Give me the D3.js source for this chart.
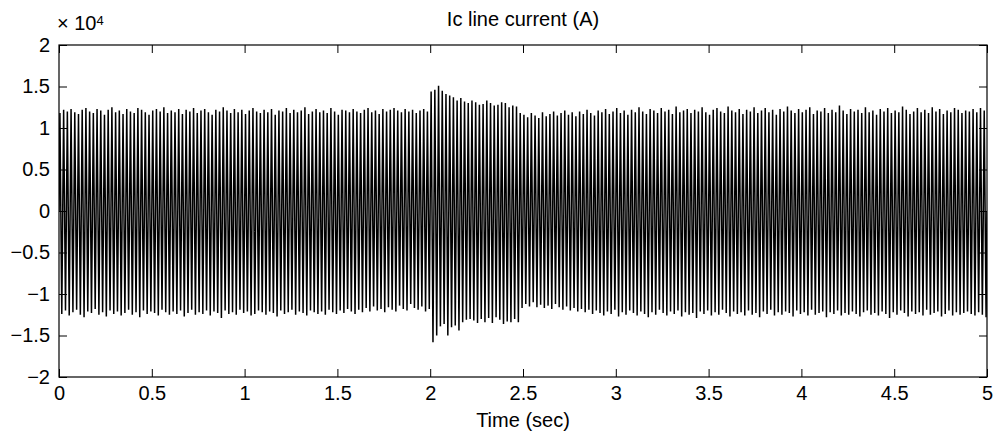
<!DOCTYPE html>
<html>
<head>
<meta charset="utf-8">
<script src="https://cdn.jsdelivr.net/npm/d3@7"></script>
<style>
  body { margin: 0; background: #fff; }
  svg { display: block; font-family: "Liberation Sans", Helvetica, Arial, sans-serif; }
</style>
</head>
<body>
<div id="chart"></div>
<script>
// Ic line current, 50 Hz, peaks of each cycle (units of 10^4 A)
const freq = 50;
const tEnd = 5;

const posPeaks = [
  1.18, 1.22, 1.20, 1.23, 1.19, 1.17, 1.22, 1.24, 1.20, 1.18,
  1.23, 1.21, 1.16, 1.22, 1.25, 1.19, 1.21, 1.17, 1.23, 1.20,
  1.18, 1.24, 1.22, 1.19, 1.16, 1.21, 1.23, 1.20, 1.25, 1.18,
  1.21, 1.19, 1.23, 1.17, 1.22, 1.20, 1.24, 1.18, 1.21, 1.23,
  1.19, 1.16, 1.22, 1.20, 1.25, 1.21, 1.18, 1.23, 1.19, 1.22,
  1.17, 1.21, 1.24, 1.20, 1.18, 1.22, 1.19, 1.23, 1.16, 1.21,
  1.20, 1.24, 1.18, 1.22, 1.19, 1.21, 1.25, 1.17, 1.20, 1.23,
  1.19, 1.21, 1.18, 1.24, 1.20, 1.16, 1.22, 1.21, 1.19, 1.23,
  1.20, 1.18, 1.22, 1.24, 1.19, 1.21, 1.17, 1.23, 1.20, 1.22,
  1.24, 1.21, 1.19, 1.23, 1.20, 1.22, 1.18, 1.21, 1.23, 1.20,
  // disturbance 2.0 - 2.5 s
  1.44, 1.46, 1.51, 1.45, 1.41, 1.39, 1.37, 1.33, 1.36, 1.32,
  1.30, 1.33, 1.31, 1.28, 1.29, 1.33, 1.30, 1.27, 1.28, 1.31,
  1.30, 1.25, 1.27, 1.26, 1.18,
  // after 2.5 s
  1.16, 1.13, 1.18, 1.15, 1.12, 1.19, 1.14, 1.17, 1.20, 1.15,
  1.18, 1.21, 1.16, 1.19, 1.14, 1.20, 1.17, 1.22, 1.18, 1.15,
  1.21, 1.19, 1.23, 1.17, 1.20, 1.24, 1.18, 1.21, 1.16, 1.22,
  1.19, 1.25, 1.20, 1.17, 1.23, 1.21, 1.18, 1.24, 1.20, 1.22,
  1.17, 1.26, 1.19, 1.21, 1.23, 1.18, 1.22, 1.20, 1.25, 1.19,
  1.16, 1.22, 1.24, 1.20, 1.18, 1.26, 1.21, 1.19, 1.23, 1.17,
  1.22, 1.20, 1.25, 1.18, 1.21, 1.24, 1.19, 1.22, 1.16, 1.23,
  1.20, 1.26, 1.21, 1.18, 1.23, 1.19, 1.22, 1.25, 1.17, 1.21,
  1.20, 1.24, 1.18, 1.22, 1.19, 1.27, 1.21, 1.17, 1.23, 1.20,
  1.22, 1.18, 1.25, 1.19, 1.21, 1.16, 1.23, 1.20, 1.24, 1.18,
  1.21, 1.19, 1.26, 1.22, 1.17, 1.20, 1.24, 1.19, 1.22, 1.18,
  1.25, 1.20, 1.23, 1.17, 1.21, 1.19, 1.24, 1.22, 1.18, 1.21,
  1.20, 1.23, 1.19, 1.24, 1.21
];

const negPeaks = [
  -1.24, -1.20, -1.26, -1.22, -1.19, -1.25, -1.28, -1.21, -1.23, -1.18,
  -1.25, -1.22, -1.27, -1.20, -1.24, -1.21, -1.26, -1.23, -1.19, -1.25,
  -1.22, -1.28, -1.20, -1.24, -1.21, -1.23, -1.26, -1.19, -1.22, -1.25,
  -1.21, -1.24, -1.20, -1.27, -1.23, -1.19, -1.25, -1.22, -1.24, -1.20,
  -1.26, -1.21, -1.23, -1.29, -1.20, -1.24, -1.22, -1.25, -1.19, -1.23,
  -1.21, -1.26, -1.24, -1.20, -1.22, -1.25, -1.21, -1.23, -1.27, -1.20,
  -1.24, -1.22, -1.19, -1.25, -1.21, -1.23, -1.26, -1.20, -1.22, -1.24,
  -1.21, -1.25, -1.19, -1.22, -1.24, -1.20, -1.23, -1.18, -1.21, -1.24,
  -1.19, -1.22, -1.17, -1.21, -1.15, -1.20, -1.18, -1.22, -1.16, -1.19,
  -1.21, -1.14, -1.18, -1.20, -1.12, -1.17, -1.19, -1.15, -1.21, -1.18,
  // disturbance 2.0 - 2.5 s
  -1.58, -1.50, -1.39, -1.36, -1.50, -1.40, -1.38, -1.44, -1.34, -1.31,
  -1.30, -1.32, -1.35, -1.30, -1.34, -1.29, -1.35, -1.28, -1.31, -1.36,
  -1.33, -1.34, -1.30, -1.34, -1.17,
  // after 2.5 s
  -1.12, -1.15, -1.10, -1.16, -1.13, -1.17, -1.14, -1.18, -1.12, -1.16,
  -1.19, -1.15, -1.20, -1.17, -1.21, -1.18, -1.22, -1.19, -1.24, -1.20,
  -1.23, -1.26, -1.21, -1.24, -1.19, -1.27, -1.22, -1.25, -1.20, -1.23,
  -1.26, -1.21, -1.24, -1.28, -1.22, -1.25, -1.19, -1.23, -1.26, -1.21,
  -1.24, -1.20, -1.27, -1.22, -1.25, -1.23, -1.29, -1.21, -1.24, -1.20,
  -1.26, -1.22, -1.25, -1.19, -1.23, -1.27, -1.21, -1.24, -1.22, -1.26,
  -1.20, -1.25, -1.23, -1.28, -1.21, -1.24, -1.19, -1.26, -1.22, -1.25,
  -1.21, -1.23, -1.27, -1.20, -1.24, -1.22, -1.26, -1.19, -1.25, -1.23,
  -1.21, -1.28, -1.22, -1.24, -1.20, -1.26, -1.23, -1.25, -1.21, -1.24,
  -1.27, -1.22, -1.20, -1.25, -1.23, -1.26, -1.21, -1.24, -1.29, -1.22,
  -1.25, -1.20, -1.23, -1.27, -1.21, -1.24, -1.22, -1.26, -1.19, -1.25,
  -1.23, -1.21, -1.27, -1.24, -1.20, -1.26, -1.22, -1.25, -1.23, -1.21,
  -1.24, -1.26, -1.22, -1.25, -1.28
];

const xTicks = [0, 0.5, 1, 1.5, 2, 2.5, 3, 3.5, 4, 4.5, 5];
const yTicks = [-2, -1.5, -1, -0.5, 0, 0.5, 1, 1.5, 2];

// Configuration
const width = 994;
const height = 436;
const margin = { left: 59, right: 7, top: 45, bottom: 59 };
const tickLen = 8;
const fontSize = 20;

// Waveform points: positive peak at quarter cycle, negative at three quarters
const points = [{ t: 0, v: 0 }];
posPeaks.forEach((p, k) => {
    points.push({ t: (k + 0.25) / freq, v: p });
    points.push({ t: (k + 0.75) / freq, v: negPeaks[k] });
});
points.push({ t: tEnd, v: 0 });

const x = d3.scaleLinear().domain([0, tEnd]).range([margin.left, width - margin.right]);
const y = d3.scaleLinear().domain([-2, 2]).range([height - margin.bottom, margin.top]);

const svg = d3.select("#chart")
    .append("svg")
    .attr("width", width)
    .attr("height", height);

svg.append("clipPath")
    .attr("id", "plot-clip")
    .append("rect")
    .attr("x", margin.left)
    .attr("y", margin.top)
    .attr("width", x.range()[1] - margin.left)
    .attr("height", y.range()[0] - margin.top);

// Signal
svg.append("path")
    .datum(points)
    .attr("clip-path", "url(#plot-clip)")
    .attr("fill", "none")
    .attr("stroke", "#000")
    .attr("stroke-width", 1.5)
    .attr("d", d3.line().x(d => x(d.t)).y(d => y(d.v)));

const fmt = d => String(d).replace("-", "\u2212");

// Axes, ticks pointing inward (matlab box style)
const axBottom = svg.append("g")
    .attr("transform", `translate(0,${y.range()[0]})`)
    .call(d3.axisBottom(x).tickValues(xTicks).tickFormat(fmt).tickSize(-tickLen).tickPadding(9));
const axTop = svg.append("g")
    .attr("transform", `translate(0,${margin.top})`)
    .call(d3.axisTop(x).tickValues(xTicks).tickFormat("").tickSize(-tickLen));
const axLeft = svg.append("g")
    .attr("transform", `translate(${margin.left},0)`)
    .call(d3.axisLeft(y).tickValues(yTicks).tickFormat(fmt).tickSize(-tickLen).tickPadding(9));
const axRight = svg.append("g")
    .attr("transform", `translate(${x.range()[1]},0)`)
    .call(d3.axisRight(y).tickValues(yTicks).tickFormat("").tickSize(-tickLen));

[axBottom, axTop, axLeft, axRight].forEach(g => {
    g.select(".domain").remove();
    g.selectAll("line").attr("stroke", "#000");
    g.selectAll("text")
        .attr("fill", "#000")
        .style("font-size", fontSize + "px")
        .style("font-family", "\"Liberation Sans\", Helvetica, Arial, sans-serif");
});

// Box
svg.append("rect")
    .attr("x", margin.left)
    .attr("y", margin.top)
    .attr("width", x.range()[1] - margin.left)
    .attr("height", y.range()[0] - margin.top)
    .attr("fill", "none")
    .attr("stroke", "#000")
    .attr("stroke-width", 1.2);

// Title and labels
svg.append("text")
    .attr("x", (x.range()[0] + x.range()[1]) / 2)
    .attr("y", 26)
    .attr("text-anchor", "middle")
    .style("font-size", fontSize + "px")
    .text("Ic line current (A)");

svg.append("text")
    .attr("x", (x.range()[0] + x.range()[1]) / 2)
    .attr("y", 427)
    .attr("text-anchor", "middle")
    .style("font-size", fontSize + "px")
    .text("Time (sec)");

// Exponent marker
const expo = svg.append("text")
    .attr("x", 57)
    .attr("y", 30)
    .style("font-size", fontSize + "px");
expo.append("tspan").text("\u00d7 10");
expo.append("tspan")
    .attr("dy", -5)
    .style("font-size", "13px")
    .text("4");
</script>
</body>
</html>
